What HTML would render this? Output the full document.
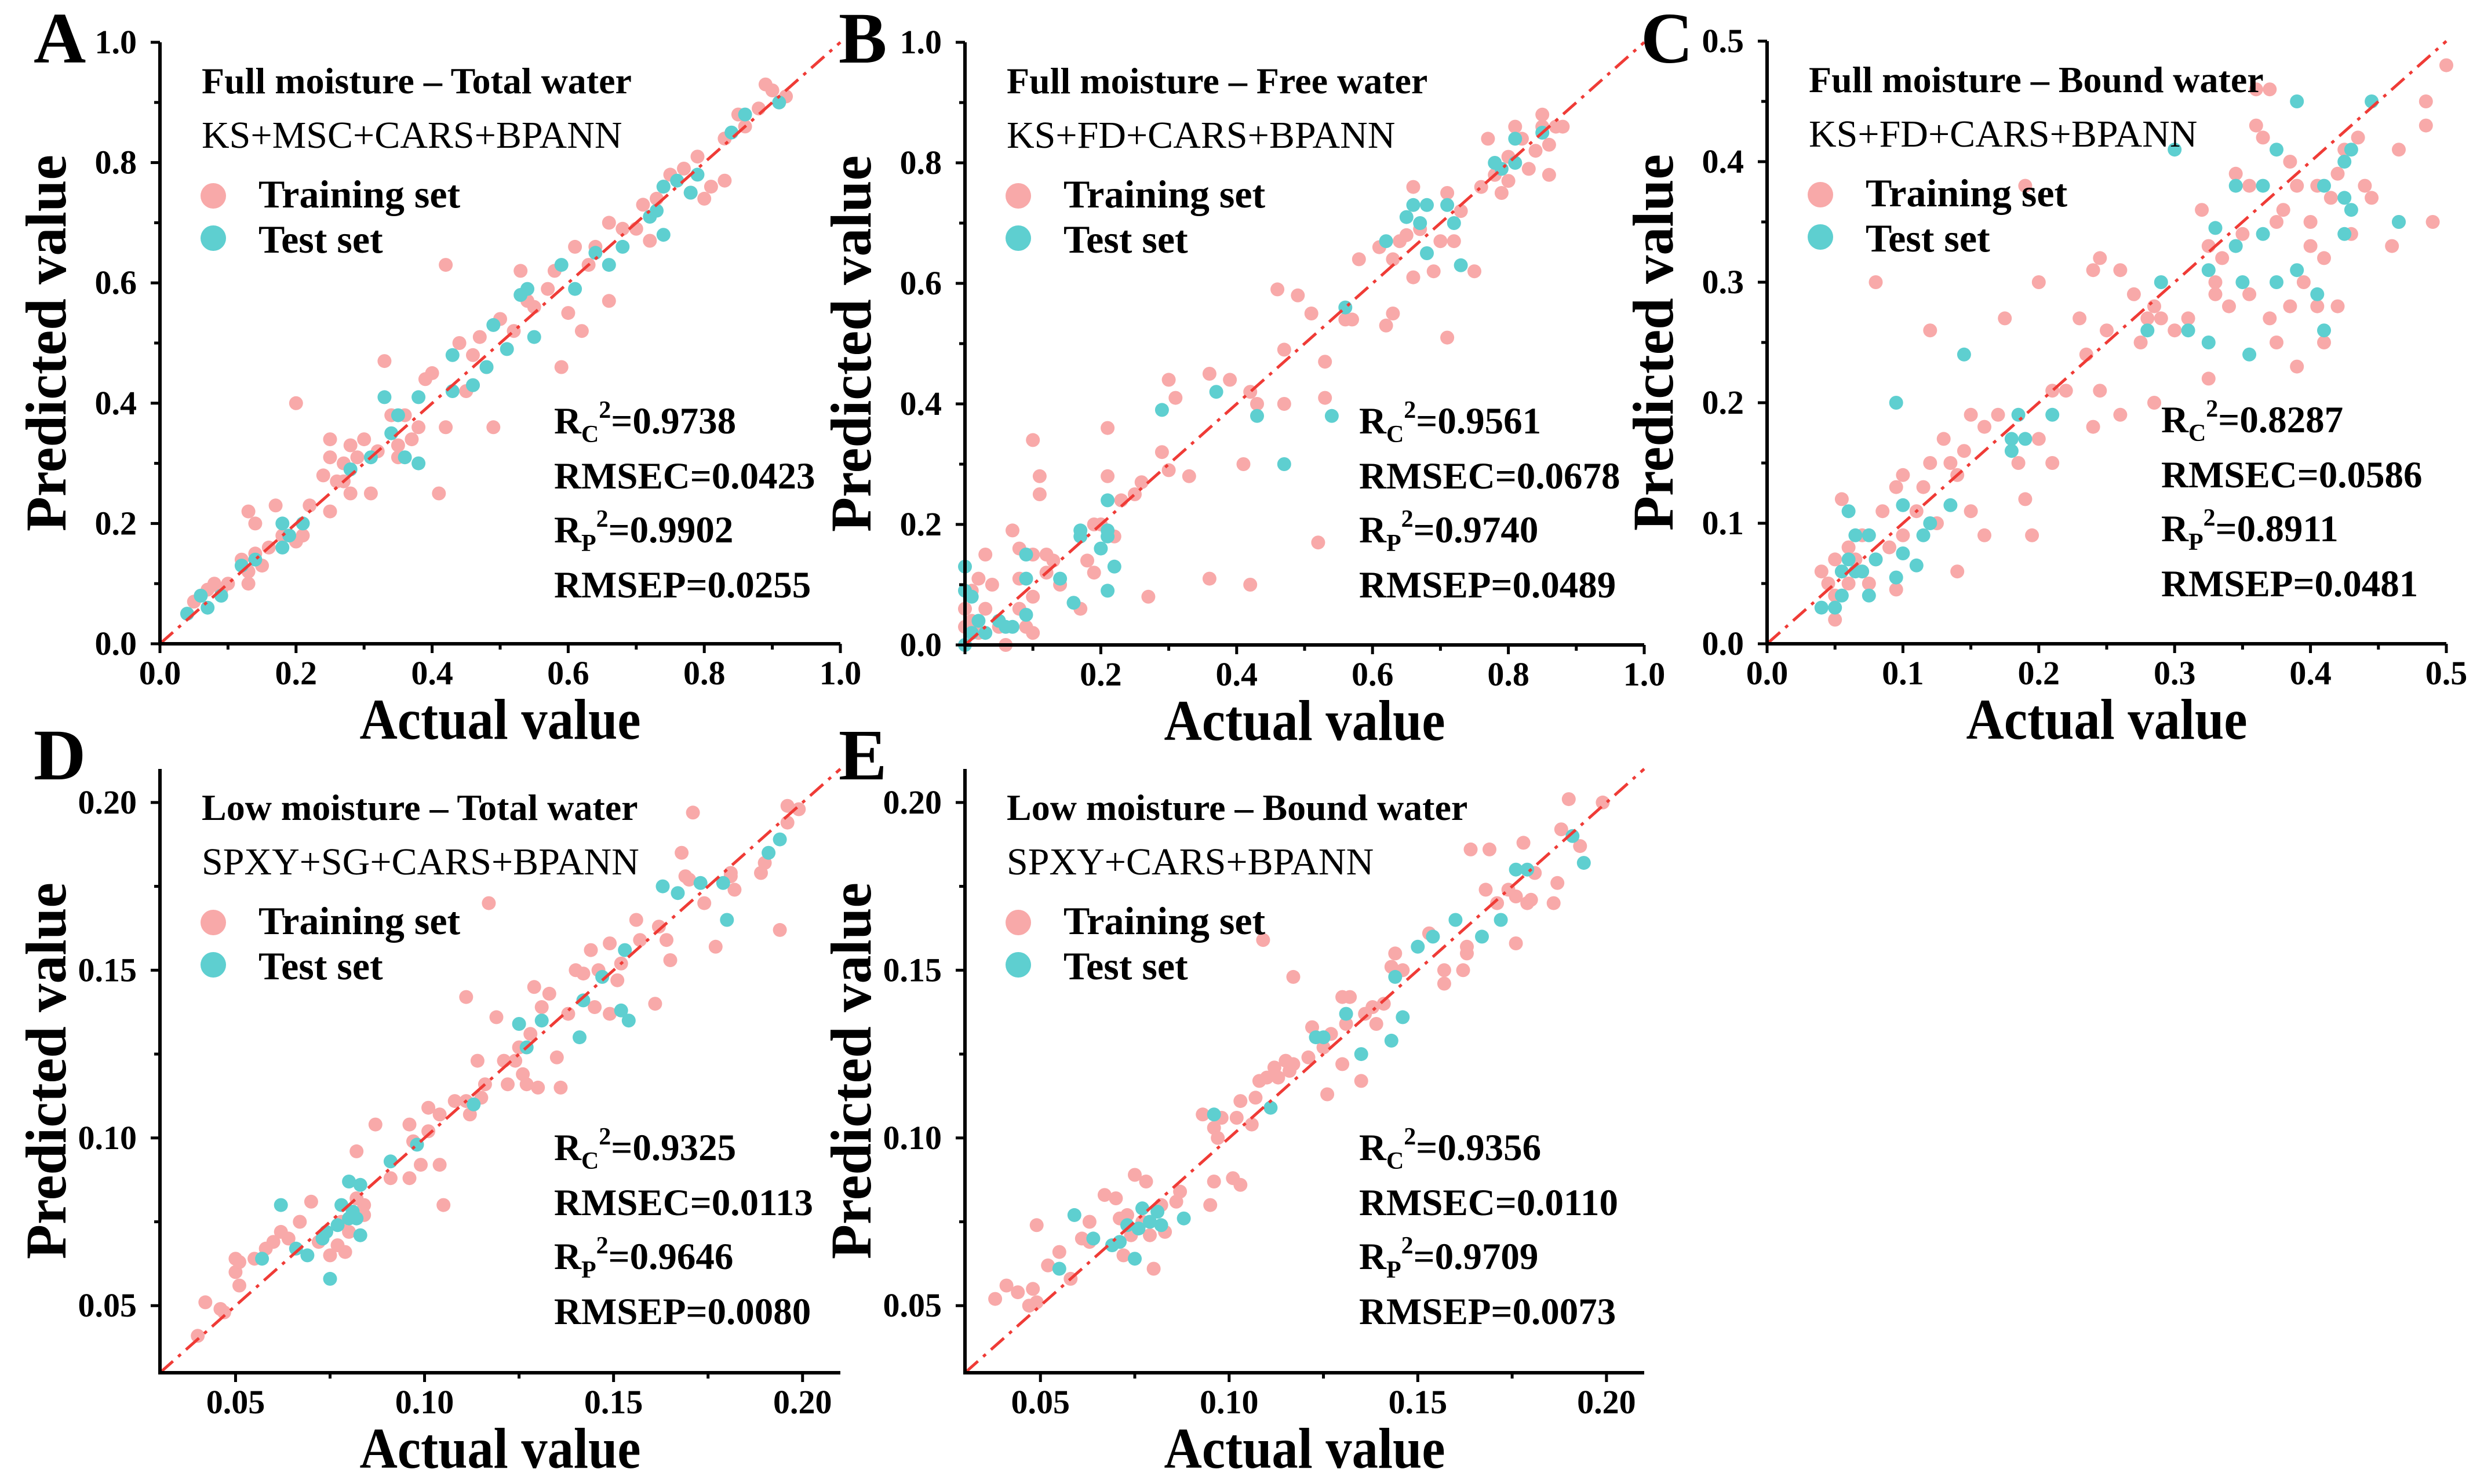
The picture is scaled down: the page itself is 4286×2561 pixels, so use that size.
<!DOCTYPE html>
<html><head><meta charset="utf-8"><style>
html,body{margin:0;padding:0;background:#fff;}
svg{display:block;}
</style></head><body>
<svg id="chart" width="4286" height="2561" viewBox="0 0 4286 2561" xmlns="http://www.w3.org/2000/svg" font-family="'Liberation Serif', serif">
<rect width="4286" height="2561" fill="#fff"/>
</svg>
<script>
// ---- data ----
const aTrain = [[0.04,0.05],[0.05,0.07],[0.06,0.08],[0.07,0.09],[0.08,0.10],[0.09,0.09],[0.10,0.10],[0.12,0.14],[0.13,0.10],[0.13,0.12],[0.14,0.15],[0.13,0.22],[0.14,0.20],[0.15,0.13],[0.16,0.16],[0.17,0.23],[0.18,0.18],[0.20,0.40],[0.20,0.17],[0.21,0.18],[0.22,0.23],[0.24,0.28],[0.25,0.34],[0.25,0.31],[0.25,0.22],[0.26,0.27],[0.27,0.30],[0.28,0.33],[0.28,0.25],[0.29,0.31],[0.30,0.34],[0.31,0.25],[0.32,0.32],[0.33,0.47],[0.34,0.38],[0.35,0.33],[0.36,0.38],[0.37,0.34],[0.38,0.36],[0.39,0.44],[0.40,0.45],[0.41,0.25],[0.42,0.36],[0.42,0.63],[0.44,0.50],[0.45,0.42],[0.46,0.48],[0.47,0.51],[0.48,0.46],[0.49,0.36],[0.50,0.54],[0.52,0.52],[0.53,0.62],[0.54,0.57],[0.55,0.56],[0.57,0.59],[0.58,0.62],[0.59,0.46],[0.60,0.55],[0.61,0.66],[0.62,0.52],[0.63,0.63],[0.64,0.66],[0.66,0.57],[0.66,0.70],[0.68,0.69],[0.70,0.69],[0.71,0.73],[0.72,0.67],[0.73,0.74],[0.74,0.76],[0.75,0.78],[0.77,0.79],[0.78,0.75],[0.80,0.74],[0.81,0.76],[0.83,0.77],[0.83,0.84],[0.85,0.88],[0.86,0.86],[0.88,0.89],[0.89,0.93],[0.90,0.92],[0.91,0.90],[0.92,0.91],[0.79,0.81],[0.46,0.43],[0.35,0.31],[0.27,0.27]];
const aTest = [[0.04,0.05],[0.06,0.08],[0.07,0.06],[0.09,0.08],[0.12,0.13],[0.14,0.14],[0.18,0.20],[0.18,0.16],[0.19,0.18],[0.21,0.20],[0.28,0.29],[0.31,0.31],[0.33,0.41],[0.34,0.35],[0.35,0.38],[0.36,0.31],[0.38,0.30],[0.38,0.41],[0.43,0.42],[0.43,0.48],[0.46,0.43],[0.48,0.46],[0.49,0.53],[0.51,0.49],[0.53,0.58],[0.54,0.59],[0.55,0.51],[0.59,0.63],[0.61,0.59],[0.64,0.65],[0.66,0.63],[0.68,0.66],[0.72,0.71],[0.73,0.72],[0.74,0.68],[0.74,0.76],[0.76,0.77],[0.78,0.75],[0.79,0.78],[0.84,0.85],[0.86,0.88],[0.91,0.90]];
const bTrain = [[0.0,0.03],[0.0,0.06],[0.01,0.09],[0.01,0.04],[0.02,0.02],[0.02,0.11],[0.03,0.06],[0.03,0.15],[0.04,0.10],[0.05,0.03],[0.06,0.0],[0.07,0.19],[0.08,0.06],[0.08,0.11],[0.08,0.16],[0.09,0.03],[0.10,0.08],[0.10,0.02],[0.10,0.15],[0.10,0.34],[0.11,0.28],[0.11,0.25],[0.12,0.12],[0.12,0.15],[0.13,0.14],[0.14,0.10],[0.17,0.06],[0.18,0.14],[0.19,0.12],[0.19,0.20],[0.20,0.20],[0.21,0.28],[0.21,0.36],[0.22,0.18],[0.23,0.24],[0.25,0.25],[0.26,0.27],[0.27,0.08],[0.29,0.32],[0.30,0.44],[0.30,0.29],[0.31,0.41],[0.33,0.28],[0.36,0.45],[0.36,0.11],[0.39,0.44],[0.41,0.30],[0.42,0.42],[0.42,0.10],[0.43,0.40],[0.46,0.59],[0.47,0.49],[0.47,0.40],[0.49,0.58],[0.51,0.55],[0.52,0.17],[0.53,0.41],[0.53,0.47],[0.56,0.54],[0.57,0.54],[0.58,0.64],[0.61,0.66],[0.62,0.53],[0.63,0.55],[0.63,0.64],[0.64,0.67],[0.65,0.68],[0.66,0.61],[0.66,0.76],[0.67,0.69],[0.69,0.62],[0.70,0.67],[0.71,0.75],[0.71,0.51],[0.72,0.67],[0.73,0.72],[0.75,0.62],[0.76,0.76],[0.77,0.84],[0.78,0.78],[0.79,0.75],[0.80,0.81],[0.80,0.77],[0.81,0.86],[0.82,0.84],[0.83,0.79],[0.84,0.82],[0.85,0.86],[0.85,0.88],[0.86,0.78],[0.86,0.83],[0.87,0.86],[0.88,0.86]];
const bTest = [[0.0,0.13],[0.0,0.09],[0.01,0.08],[0.01,0.02],[0.0,0.0],[0.02,0.04],[0.03,0.02],[0.05,0.04],[0.06,0.03],[0.07,0.03],[0.09,0.05],[0.09,0.11],[0.09,0.15],[0.14,0.11],[0.16,0.07],[0.17,0.19],[0.17,0.18],[0.20,0.16],[0.21,0.18],[0.21,0.24],[0.21,0.19],[0.22,0.13],[0.21,0.09],[0.29,0.39],[0.37,0.42],[0.43,0.38],[0.47,0.30],[0.54,0.38],[0.56,0.56],[0.62,0.67],[0.65,0.71],[0.66,0.73],[0.67,0.70],[0.68,0.73],[0.68,0.65],[0.71,0.73],[0.72,0.70],[0.73,0.63],[0.78,0.80],[0.79,0.79],[0.81,0.80],[0.81,0.84],[0.85,0.85]];
const cTrain = [[0.04,0.06],[0.045,0.05],[0.05,0.07],[0.05,0.04],[0.055,0.06],[0.06,0.05],[0.06,0.08],[0.065,0.07],[0.07,0.06],[0.07,0.09],[0.075,0.05],[0.08,0.07],[0.05,0.02],[0.055,0.12],[0.08,0.30],[0.085,0.11],[0.09,0.08],[0.095,0.13],[0.095,0.045],[0.10,0.14],[0.10,0.09],[0.11,0.11],[0.115,0.13],[0.12,0.26],[0.12,0.15],[0.125,0.10],[0.13,0.17],[0.135,0.15],[0.14,0.14],[0.14,0.06],[0.145,0.16],[0.15,0.19],[0.15,0.11],[0.16,0.09],[0.16,0.18],[0.17,0.19],[0.175,0.27],[0.185,0.15],[0.19,0.12],[0.195,0.09],[0.19,0.38],[0.2,0.30],[0.2,0.17],[0.21,0.15],[0.21,0.21],[0.22,0.21],[0.23,0.27],[0.235,0.24],[0.24,0.31],[0.24,0.18],[0.245,0.32],[0.245,0.21],[0.25,0.26],[0.26,0.31],[0.26,0.19],[0.27,0.29],[0.275,0.25],[0.28,0.27],[0.285,0.28],[0.285,0.20],[0.29,0.27],[0.3,0.26],[0.31,0.27],[0.32,0.36],[0.325,0.33],[0.325,0.22],[0.33,0.30],[0.33,0.29],[0.335,0.32],[0.34,0.28],[0.345,0.39],[0.35,0.34],[0.355,0.29],[0.355,0.38],[0.36,0.46],[0.36,0.43],[0.365,0.42],[0.37,0.46],[0.37,0.27],[0.375,0.35],[0.375,0.25],[0.38,0.36],[0.385,0.40],[0.385,0.28],[0.39,0.23],[0.39,0.38],[0.395,0.30],[0.4,0.33],[0.4,0.35],[0.405,0.28],[0.405,0.38],[0.41,0.25],[0.41,0.32],[0.415,0.37],[0.42,0.39],[0.42,0.28],[0.425,0.41],[0.43,0.34],[0.435,0.42],[0.44,0.38],[0.445,0.37],[0.46,0.33],[0.465,0.41],[0.465,0.35],[0.485,0.43],[0.485,0.45],[0.49,0.35],[0.5,0.48]];
const cTest = [[0.04,0.03],[0.05,0.03],[0.055,0.04],[0.055,0.06],[0.06,0.07],[0.06,0.11],[0.065,0.09],[0.065,0.06],[0.07,0.06],[0.075,0.04],[0.075,0.09],[0.08,0.07],[0.095,0.055],[0.095,0.20],[0.1,0.115],[0.1,0.075],[0.11,0.065],[0.115,0.09],[0.12,0.10],[0.135,0.115],[0.145,0.24],[0.18,0.17],[0.18,0.16],[0.185,0.19],[0.19,0.17],[0.21,0.19],[0.28,0.26],[0.29,0.30],[0.31,0.26],[0.325,0.25],[0.325,0.31],[0.33,0.345],[0.30,0.41],[0.345,0.33],[0.345,0.38],[0.35,0.30],[0.355,0.24],[0.365,0.38],[0.365,0.34],[0.375,0.41],[0.375,0.30],[0.39,0.31],[0.39,0.45],[0.405,0.29],[0.41,0.38],[0.41,0.26],[0.425,0.40],[0.425,0.37],[0.43,0.36],[0.43,0.41],[0.445,0.45],[0.465,0.35],[0.425,0.34]];
const dTrain = [[0.040,0.041],[0.042,0.051],[0.046,0.049],[0.047,0.048],[0.050,0.060],[0.050,0.064],[0.051,0.063],[0.051,0.056],[0.055,0.064],[0.058,0.067],[0.060,0.069],[0.062,0.072],[0.064,0.070],[0.067,0.075],[0.070,0.081],[0.072,0.069],[0.075,0.065],[0.077,0.068],[0.078,0.075],[0.079,0.066],[0.080,0.072],[0.081,0.077],[0.082,0.082],[0.082,0.096],[0.084,0.080],[0.084,0.077],[0.087,0.104],[0.091,0.088],[0.096,0.104],[0.096,0.088],[0.097,0.099],[0.099,0.092],[0.101,0.102],[0.101,0.109],[0.104,0.092],[0.104,0.107],[0.105,0.080],[0.108,0.111],[0.111,0.111],[0.111,0.142],[0.112,0.107],[0.114,0.123],[0.115,0.112],[0.116,0.116],[0.117,0.170],[0.119,0.136],[0.121,0.123],[0.122,0.116],[0.124,0.123],[0.125,0.127],[0.126,0.119],[0.127,0.116],[0.128,0.131],[0.129,0.145],[0.130,0.115],[0.131,0.139],[0.133,0.143],[0.135,0.124],[0.136,0.115],[0.138,0.137],[0.140,0.150],[0.142,0.149],[0.144,0.156],[0.145,0.139],[0.146,0.150],[0.149,0.137],[0.149,0.158],[0.151,0.147],[0.152,0.152],[0.156,0.165],[0.157,0.159],[0.161,0.140],[0.162,0.163],[0.164,0.159],[0.165,0.153],[0.168,0.185],[0.169,0.178],[0.170,0.177],[0.171,0.197],[0.174,0.170],[0.177,0.157],[0.181,0.179],[0.181,0.178],[0.182,0.174],[0.189,0.179],[0.190,0.182],[0.194,0.162],[0.196,0.199],[0.196,0.194],[0.199,0.198]];
const dTest = [[0.057,0.064],[0.062,0.080],[0.066,0.067],[0.069,0.065],[0.073,0.070],[0.074,0.072],[0.075,0.058],[0.078,0.080],[0.077,0.074],[0.080,0.087],[0.080,0.076],[0.081,0.078],[0.082,0.076],[0.083,0.086],[0.083,0.071],[0.091,0.093],[0.098,0.098],[0.113,0.110],[0.125,0.134],[0.127,0.127],[0.131,0.135],[0.141,0.130],[0.142,0.141],[0.147,0.148],[0.152,0.138],[0.153,0.156],[0.154,0.135],[0.163,0.175],[0.167,0.173],[0.173,0.176],[0.179,0.176],[0.180,0.165],[0.191,0.185],[0.194,0.189]];
const eTrain = [[0.038,0.052],[0.041,0.056],[0.044,0.054],[0.048,0.055],[0.047,0.050],[0.049,0.051],[0.052,0.062],[0.055,0.066],[0.049,0.074],[0.058,0.058],[0.061,0.070],[0.063,0.069],[0.063,0.075],[0.067,0.083],[0.070,0.082],[0.071,0.076],[0.072,0.065],[0.073,0.077],[0.074,0.071],[0.075,0.089],[0.077,0.075],[0.078,0.087],[0.079,0.071],[0.080,0.061],[0.082,0.080],[0.083,0.072],[0.086,0.081],[0.087,0.084],[0.093,0.107],[0.095,0.080],[0.096,0.087],[0.096,0.103],[0.097,0.100],[0.098,0.106],[0.101,0.088],[0.102,0.106],[0.103,0.086],[0.103,0.111],[0.106,0.104],[0.107,0.112],[0.108,0.117],[0.109,0.159],[0.110,0.118],[0.112,0.121],[0.113,0.118],[0.115,0.123],[0.117,0.148],[0.116,0.120],[0.117,0.122],[0.121,0.124],[0.122,0.133],[0.125,0.127],[0.126,0.113],[0.127,0.131],[0.130,0.122],[0.130,0.142],[0.131,0.134],[0.132,0.142],[0.135,0.117],[0.136,0.137],[0.138,0.139],[0.139,0.134],[0.141,0.140],[0.143,0.151],[0.144,0.155],[0.146,0.150],[0.153,0.161],[0.157,0.146],[0.157,0.150],[0.162,0.150],[0.163,0.157],[0.164,0.186],[0.163,0.155],[0.169,0.186],[0.168,0.174],[0.171,0.170],[0.174,0.174],[0.176,0.172],[0.176,0.158],[0.178,0.188],[0.179,0.170],[0.180,0.171],[0.181,0.179],[0.186,0.170],[0.187,0.176],[0.188,0.192],[0.190,0.201],[0.193,0.187],[0.199,0.200]];
const eTest = [[0.055,0.061],[0.059,0.077],[0.064,0.070],[0.069,0.068],[0.071,0.069],[0.073,0.074],[0.075,0.064],[0.076,0.073],[0.077,0.079],[0.079,0.075],[0.081,0.078],[0.082,0.074],[0.088,0.076],[0.096,0.107],[0.111,0.109],[0.123,0.130],[0.125,0.130],[0.131,0.137],[0.135,0.125],[0.143,0.129],[0.144,0.148],[0.146,0.136],[0.150,0.157],[0.154,0.160],[0.160,0.165],[0.167,0.160],[0.172,0.165],[0.176,0.180],[0.179,0.180],[0.191,0.190],[0.194,0.182]];
const ticksFull = [0.0,0.2,0.4,0.6,0.8,1.0];
const ticksBound = [0.0,0.1,0.2,0.3,0.4,0.5];
const ticksLow = [0.05,0.10,0.15,0.20];
const tickLabelsFull = ["0.0","0.2","0.4","0.6","0.8","1.0"];
const tickLabelsBound = ["0.0","0.1","0.2","0.3","0.4","0.5"];
const tickLabelsLow = ["0.05","0.10","0.15","0.20"];
const statsA = ["0.9738","0.0423","0.9902","0.0255"];
const statsB = ["0.9561","0.0678","0.9740","0.0489"];
const statsC = ["0.8287","0.0586","0.8911","0.0481"];
const statsD = ["0.9325","0.0113","0.9646","0.0080"];
const statsE = ["0.9356","0.0110","0.9709","0.0073"];

const NS = "http://www.w3.org/2000/svg";
const svg = document.getElementById('chart');
function mk(tag, attrs, parent, text){
  const e = document.createElementNS(NS, tag);
  for (const k in attrs) e.setAttribute(k, attrs[k]);
  if (text !== undefined) e.textContent = text;
  (parent||svg).appendChild(e);
  return e;
}
const panels = [
 {id:'a',letter:'A',x0:276,x1:1450,y0:73,y1:1111,lbY:108,dom:[0,1],ticks:ticksFull,labels:tickLabelsFull,minor:0.1,xSkip0:false,title:'Full moisture \u2013 Total water',method:'KS+MSC+CARS+BPANN',stats:statsA,train:aTrain,test:aTest},
 {id:'b',letter:'B',x0:1665,x1:2837,y0:73,y1:1113,lbY:108,dom:[0,1],ticks:ticksFull,labels:tickLabelsFull,minor:0.1,xSkip0:true,title:'Full moisture \u2013 Free water',method:'KS+FD+CARS+BPANN',stats:statsB,train:bTrain,test:bTest},
 {id:'c',letter:'C',x0:3049,x1:4221,y0:71,y1:1111,lbY:108,dom:[0,0.5],ticks:ticksBound,labels:tickLabelsBound,minor:0.05,xSkip0:false,title:'Full moisture \u2013 Bound water',method:'KS+FD+CARS+BPANN',stats:statsC,train:cTrain,test:cTest},
 {id:'d',letter:'D',x0:276,x1:1450,y0:1327,y1:2369,lbY:1345,dom:[0.03,0.21],ticks:ticksLow,labels:tickLabelsLow,minor:0.025,xSkip0:false,title:'Low moisture \u2013 Total water',method:'SPXY+SG+CARS+BPANN',stats:statsD,train:dTrain,test:dTest},
 {id:'e',letter:'E',x0:1665,x1:2837,y0:1327,y1:2369,lbY:1345,dom:[0.03,0.21],ticks:ticksLow,labels:tickLabelsLow,minor:0.025,xSkip0:false,title:'Low moisture \u2013 Bound water',method:'SPXY+CARS+BPANN',stats:statsE,train:eTrain,test:eTest}
];
const PINK='#f8a9a9', TEAL='#5ecfd0';
panels.forEach(p=>{
  const g = mk('g',{});
  
  
  const sx = v => p.x0 + (v-p.dom[0])/(p.dom[1]-p.dom[0])*(p.x1-p.x0);
  const sy = v => p.y1 - (v-p.dom[0])/(p.dom[1]-p.dom[0])*(p.y1-p.y0);
  const pts = mk('g',{},g);
  
  
  p.train.forEach(d=>{
    const c = mk('circle',{cx:sx(d[0]).toFixed(1),cy:sy(d[1]).toFixed(1),r:12,fill:PINK},pts);
    
    
  });
  p.test.forEach(d=>{
    const c = mk('circle',{cx:sx(d[0]).toFixed(1),cy:sy(d[1]).toFixed(1),r:12,fill:TEAL},pts);
    
    
  });
  const l = mk('line',{x1:sx(p.dom[0]),y1:sy(p.dom[0]),x2:sx(p.dom[1]),y2:sy(p.dom[1]),stroke:'#ef3b36','stroke-width':5,'stroke-dasharray':'30 12 6 12'},g);
  
  
  const ax = mk('path',{d:`M${p.x0},${p.y0} L${p.x0},${p.y1} L${p.x1},${p.y1}`,fill:'none',stroke:'#000','stroke-width':6},g);
  
  
  const startM = Math.ceil((p.dom[0]-1e-9)/p.minor);
  const endM = Math.floor((p.dom[1]+1e-9)/p.minor);
  for (let k=startM;k<=endM;k++){
    const v=k*p.minor;
    const major = p.ticks.some(t=>Math.abs(t-v)<1e-6);
    const len = major?16:10;
    mk('line',{x1:sx(v),y1:p.y1,x2:sx(v),y2:p.y1+len,stroke:'#000','stroke-width':5},g);
    mk('line',{x1:p.x0,y1:sy(v),x2:p.x0-len,y2:sy(v),stroke:'#000','stroke-width':5},g);
  }
  p.ticks.forEach((t,i)=>{
    const yl = mk('text',{x:p.x0-40,y:sy(t)+19,'text-anchor':'end','font-size':58,'font-weight':'bold'},g,p.labels[i]);
    
    
    if (!(p.xSkip0 && i===0)){
      const xl = mk('text',{x:sx(t),y:p.y1+70,'text-anchor':'middle','font-size':58,'font-weight':'bold'},g,p.labels[i]);
      
      
    }
  });
  const cx=(p.x0+p.x1)/2, cy=(p.y0+p.y1)/2;
  const xt = mk('text',{x:cx,y:p.y1+164,'text-anchor':'middle','font-size':100,'font-weight':'bold',textLength:485,lengthAdjust:'spacingAndGlyphs'},g,'Actual value');
  
  
  const yt = mk('text',{x:0,y:0,'text-anchor':'middle','font-size':100,'font-weight':'bold',textLength:650,lengthAdjust:'spacingAndGlyphs',transform:`translate(${p.x0-163},${cy}) rotate(-90)`},g,'Predicted value');
  
  
  const pl = mk('text',{x:p.x0-218,y:p.lbY,'font-size':125,'font-weight':'bold'},g,p.letter);
  
  
  const tt = mk('text',{x:p.x0+72,y:p.y0+88,'font-size':64,'font-weight':'bold'},g,p.title);
  
  
  const mt = mk('text',{x:p.x0+72,y:p.y0+182,'font-size':66},g,p.method);
  
  
  const lg = mk('g',{},g);
  
  
  mk('circle',{cx:p.x0+92,cy:p.y0+265,r:22,fill:PINK},lg);
  const l1 = mk('text',{x:p.x0+170,y:p.y0+285,'font-size':68,'font-weight':'bold'},lg,'Training set');
  
  
  mk('circle',{cx:p.x0+92,cy:p.y0+338,r:22,fill:TEAL},lg);
  const l2 = mk('text',{x:p.x0+170,y:p.y0+363,'font-size':68,'font-weight':'bold'},lg,'Test set');
  
  
  const st = mk('g',{'font-size':65,'font-weight':'bold'},g);
  
  
  const sxp = p.x0+680, b0 = p.y0+675;
  const t1 = mk('text',{x:sxp,y:b0},st);
  mk('tspan',{},t1,'R');
  mk('tspan',{'font-size':42,dy:15},t1,'C');
  mk('tspan',{'font-size':42,dy:-42},t1,'2');
  mk('tspan',{dy:27},t1,'='+p.stats[0]);
  mk('text',{x:sxp,y:b0+95},st,'RMSEC='+p.stats[1]);
  const t3 = mk('text',{x:sxp,y:b0+188},st);
  mk('tspan',{},t3,'R');
  mk('tspan',{'font-size':42,dy:15},t3,'P');
  mk('tspan',{'font-size':42,dy:-42},t3,'2');
  mk('tspan',{dy:27},t3,'='+p.stats[2]);
  mk('text',{x:sxp,y:b0+283},st,'RMSEP='+p.stats[3]);
});
</script>
</body></html>
